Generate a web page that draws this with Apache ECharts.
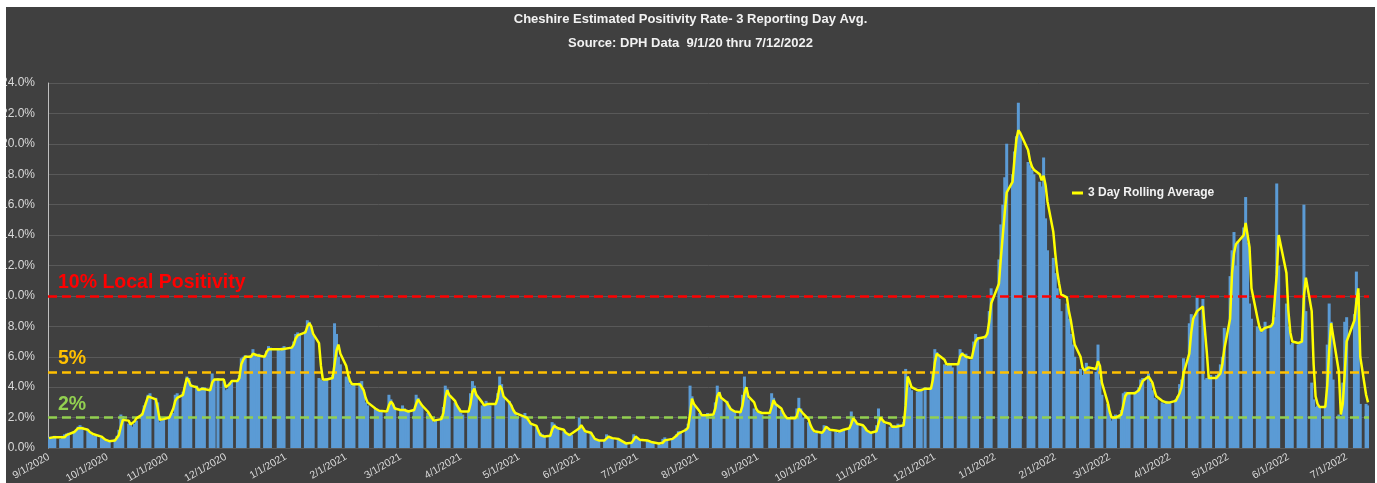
<!DOCTYPE html>
<html><head><meta charset="utf-8">
<script src="https://cdn.jsdelivr.net/npm/echarts/dist/echarts.min.js"></script>
<style>
html,body{margin:0;padding:0;background:#fff;width:1377px;height:483px;overflow:hidden}
#c{position:absolute;left:6px;top:7px;width:1369px;height:476px;background:#404040}
</style></head><body><div id="c"></div>
<script>
// Axis range (reporting days are Mon-Fri; weeks start on Monday 2020-08-31)
const firstDay = [2020, 8, 1];   // 9/1/2020
const dayCount = 680;            // through 7/12/2022
const yTicks = [0, 2, 4, 6, 8, 10, 12, 14, 16, 18, 20, 22, 24];
const thresholds = [10, 5, 2];
const thresholdLabels = ['10% Local Positivity', '5%', '2%'];

// Daily positivity (%), one row per week [Mon,Tue,Wed,Thu,Fri]
const barWeeks2020 = [
[null,0.7,0.75,0.7,0.8],[0.6,0.8,0.9,0.95,1.0],[1.1,1.2,1.4,1.5,1.4],[1.2,1.0,0.9,0.8,0.8],
[0.7,0.6,0.5,0.4,0.45],[0.6,0.8,1.2,2.2,2.1],[1.6,1.5,1.4,1.6,1.8],[2.3,2.8,3.0,3.5,3.6],
[3.3,3.0,1.7,1.8,1.9],[2.0,2.2,2.3,3.5,3.6],[3.7,4.0,4.7,4.6,4.2],[4.1,3.8,3.9,4.0,4.0],
[3.8,4.9,4.5,null,4.6],[4.4,3.8,3.9,4.3,4.4],[4.4,4.8,5.9,6.0,6.1],[6.1,6.5,6.2,6.0,6.2],
[6.0,6.4,6.7,6.6,null],[6.5,6.4,6.6,6.7,null]
];
const barWeeks2021a = [
[6.6,7.0,7.5,7.6,7.5],[7.7,8.4,8.3,7.9,7.4],[4.6,4.5,4.4,4.5,4.6],[4.8,8.2,7.5,6.0,5.5],
[4.7,4.6,4.2,4.1,4.2],[4.3,4.4,3.7,3.0,2.8],[null,2.6,2.5,2.4,2.5],[2.3,3.5,3.2,2.9,2.7],
[2.5,2.8,2.6,2.4,2.5],[2.5,3.5,3.3,2.9,2.7],[2.3,2.1,1.9,1.7,1.8],[2.0,2.7,4.1,3.9,3.4],
[3.0,2.8,2.6,2.3,2.2],[2.4,3.6,4.4,4.1,3.5],[2.8,2.9,3.1,2.9,2.8],[2.9,3.6,4.7,4.2,3.4],
[3.1,2.8,2.5,2.3,2.1],[2.1,2.3,2.0,1.7,1.6],[1.4,1.2,1.0,0.9,0.8],[0.8,1.7,1.6,1.4,1.3],
[1.1,0.95,0.9,0.85,0.85],[null,2.0,1.5,1.2,1.0],[1.0,0.8,0.6,0.5,0.5],[0.5,0.9,0.8,0.7,0.6],
[0.6,0.5,0.4,0.4,0.3],[0.35,0.9,0.7,0.6,0.5]
];
const barWeeks2021b = [
[null,0.5,0.45,0.4,0.35],[0.3,0.2,0.6,0.7,0.6],[0.6,0.7,0.9,1.1,1.1],[1.3,1.6,4.1,3.4,2.8],
[2.3,2.2,2.1,2.2,2.3],[2.2,3.0,4.1,3.7,3.2],[3.1,2.8,2.6,2.5,2.4],[2.3,3.5,4.7,4.0,3.2],
[2.6,2.4,2.3,2.3,2.2],[null,2.2,3.6,3.3,2.9],[2.5,2.2,2.0,1.9,1.9],[1.9,2.6,3.3,2.6,2.0],
[1.7,1.4,1.2,1.0,1.0],[1.0,1.5,1.4,1.2,1.1],[1.1,1.0,1.1,1.2,1.2],[1.3,2.4,2.0,1.8,1.6],
[1.5,1.3,1.1,1.0,1.0],[1.5,2.6,2.0,1.8,1.6],[1.4,1.3,1.5,1.4,1.6],[1.7,5.2,4.5,4.0,3.8],
[3.7,3.8,3.9,null,4.0],[4.0,5.0,6.5,6.3,6.0],[5.5,5.4,5.6,5.5,5.3],[5.6,6.5,6.3,6.0,6.2],
[5.8,7.0,7.5,7.3,null],[7.4,7.6,9.0,10.5,null]
];
const barWeeks2022 = [
[12.4,14.7,16.0,17.8,20.0],[18.0,19.5,20.5,22.7,20.5],[null,18.8,18.6,18.3,18.0],[17.5,17.2,19.1,15.1,13.0],
[12.5,11.5,10.5,9.8,9.0],[9.5,8.5,7.5,6.8,6.0],[5.2,4.8,5.2,5.6,5.3],[null,5.0,6.8,4.5,3.5],
[2.9,2.2,1.8,2.0,2.2],[2.5,3.6,3.7,3.5,3.6],[3.7,3.6,4.0,4.5,4.6],[4.9,4.3,3.8,3.3,3.2],
[3.0,2.9,3.1,3.0,3.0],[3.2,3.4,4.2,4.5,5.9],[8.2,8.8,8.5,8.6,9.9],[9.8,4.5,4.6,4.6,4.8],
[4.8,5.0,5.5,6.0,7.9],[11.3,13.0,14.2,12.0,13.6],[14.5,16.5,13.5,9.5,8.5],[8.0,7.8,7.6,7.7,8.3],
[8.0,8.2,8.6,17.4,12.0],[null,9.5,8.0,6.8,6.9],[6.8,7.0,7.2,16.0,9.0],[4.3,3.2,2.7,2.8,2.7],
[2.8,6.8,9.5,8.3,4.5],[2.2,2.1,4.3,8.3,8.6],[null,8.8,11.6,10.2,2.9],[2.9,2.8]
];

// 3 Day Rolling Average (%), same week layout
const lineWeeks2020 = [
[null,0.65,0.7,0.7,0.72],[0.7,0.6,0.7,0.85,0.95],[1.05,1.15,1.3,1.35,1.3],[1.2,1.05,0.95,0.9,0.85],
[0.75,0.65,0.55,0.45,0.45],[0.5,0.6,0.85,1.4,1.85],[1.8,1.55,1.6,1.75,1.95],[2.2,2.6,3.0,3.4,3.35],
[3.2,2.6,1.85,1.8,1.9],[2.0,2.1,2.6,3.1,3.3],[3.5,4.1,4.6,4.4,4.1],[4.0,3.8,3.9,3.9,3.8],
[3.8,4.3,4.5,null,4.5],[4.5,4.0,3.9,4.2,4.4],[4.4,4.6,5.5,5.8,6.0],[6.0,6.2,6.2,6.1,6.1],
[6.0,6.3,6.5,6.55,null],[6.5,6.45,6.5,6.6,null]
];
const lineWeeks2021a = [
[6.6,6.8,7.2,7.4,7.5],[7.6,8.0,8.2,8.0,7.5],[6.9,5.4,4.5,4.45,4.5],[4.6,5.5,6.4,6.8,6.2],
[5.4,4.8,4.4,4.2,4.15],[4.2,4.1,3.8,3.3,3.0],[null,2.6,2.5,2.45,2.5],[2.4,2.8,3.05,2.9,2.6],
[2.5,2.4,2.5,2.5,2.4],[2.5,2.9,3.2,3.0,2.8],[2.4,2.2,2.0,1.8,1.75],[1.9,2.3,3.3,3.8,3.5],
[3.1,2.8,2.6,2.4,2.3],[2.4,2.9,3.7,3.9,3.5],[3.0,2.8,2.8,2.9,2.85],[2.9,3.3,4.1,3.9,3.4],
[3.0,2.8,2.5,2.3,2.2],[2.1,2.1,2.0,1.8,1.6],[1.45,1.1,0.85,0.75,0.75],[0.8,1.2,1.45,1.4,1.3],
[1.2,1.0,0.9,0.85,0.85],[null,1.3,1.5,1.4,1.1],[1.0,0.8,0.6,0.5,0.5],[0.5,0.6,0.75,0.7,0.65],
[0.6,0.5,0.45,0.35,0.3],[0.35,0.55,0.75,0.65,0.55]
];
const lineWeeks2021b = [
[null,0.5,0.45,0.4,0.35],[0.3,0.26,0.35,0.5,0.6],[0.6,0.7,0.8,0.95,1.05],[1.2,1.35,2.2,3.25,2.9],
[2.4,2.15,2.15,2.15,2.2],[2.2,2.6,3.4,3.65,3.3],[3.0,2.75,2.55,2.45,2.4],[2.35,2.8,3.6,4.0,3.4],
[3.0,2.6,2.4,2.3,2.3],[null,2.3,2.7,3.15,2.9],[2.6,2.3,2.1,1.95,1.95],[1.95,2.1,2.6,2.7,2.3],
[1.9,1.5,1.25,1.1,1.0],[1.0,1.15,1.4,1.3,1.2],[1.15,1.1,1.1,1.15,1.2],[1.3,1.6,1.95,1.8,1.6],
[1.5,1.35,1.15,1.05,1.0],[1.1,1.6,2.0,1.9,1.7],[1.6,1.4,1.4,1.4,1.5],[1.5,2.8,4.7,4.4,4.0],
[3.8,3.7,3.8,null,3.9],[3.9,4.5,5.6,6.2,6.1],[5.8,5.5,5.5,5.5,5.4],[5.5,6.0,6.2,6.1,6.0],
[5.9,6.5,7.0,7.2,null],[7.3,7.5,8.3,9.5,null]
];
const lineWeeks2022 = [
[10.8,12.5,14.0,15.5,16.8],[17.5,19.0,20.3,20.9,20.7],[null,19.6,18.9,18.5,18.3],[18.0,17.6,17.9,17.3,16.2],
[14.2,12.8,11.6,10.8,10.1],[9.9,9.0,8.4,7.6,6.8],[6.0,5.3,5.1,5.2,5.3],[null,5.2,5.7,5.4,4.3],
[3.0,2.4,2.0,1.9,2.0],[2.2,2.8,3.4,3.6,3.6],[3.6,3.7,3.8,4.1,4.4],[4.7,4.6,4.3,3.8,3.4],
[3.1,3.0,3.0,3.0,3.0],[3.1,3.2,3.6,4.0,4.9],[6.2,7.6,8.5,8.6,9.0],[9.3,7.8,6.3,4.6,4.6],
[4.6,4.7,4.9,5.5,6.5],[8.5,11.5,12.8,13.4,13.5],[14.0,14.8,14.9,13.2,10.5],[8.6,8.0,7.7,7.7,7.9],
[8.0,8.2,8.3,11.4,14.0],[null,11.5,9.0,7.6,7.0],[6.9,6.8,7.0,10.0,11.2],[9.0,5.5,3.4,2.9,2.7],
[2.7,4.1,6.4,8.2,7.4],[5.0,2.2,2.9,4.9,7.0],[null,8.4,9.6,10.5,6.0],[3.5,3.0]
];

// ---- build daily category axis ----
const categories = [];
for (let i = 0; i < dayCount; i++) {
  const d = new Date(Date.UTC(firstDay[0], firstDay[1], firstDay[2]) + i * 86400000);
  categories.push((d.getUTCMonth() + 1) + '/' + d.getUTCDate() + '/' + d.getUTCFullYear());
}
function spread(weeks) {
  const out = new Array(dayCount).fill(null);
  weeks.forEach((wk, k) => wk.forEach((v, j) => {
    const idx = 7 * k - 1 + j;   // week 0 starts Monday 8/31/2020
    if (idx >= 0 && idx < dayCount) out[idx] = v;
  }));
  return out;
}
const barData = spread([].concat(barWeeks2020, barWeeks2021a, barWeeks2021b, barWeeks2022));
const lineData = spread([].concat(lineWeeks2020, lineWeeks2021a, lineWeeks2021b, lineWeeks2022));

const FONT = 'Liberation Sans';
const thrColors = ['#ff0000', '#ffc000', '#92d050'];

const chart = echarts.init(document.getElementById('c'), null, {renderer: 'canvas'});
chart.setOption({
  animation: false,
  backgroundColor: '#404040',
  title: {
    text: 'Cheshire Estimated Positivity Rate- 3 Reporting Day Avg.\nSource: DPH Data  9/1/20 thru 7/12/2022',
    left: 'center', top: -5,
    textStyle: {color: '#f2f2f2', fontSize: 13, fontWeight: 'bold', fontFamily: FONT, lineHeight: 24}
  },
  legend: {
    data: ['3 Day Rolling Average'],
    left: 1061, top: 175,
    icon: 'rect', itemWidth: 11, itemHeight: 3, itemGap: 4,
    textStyle: {color: '#f2f2f2', fontSize: 12, fontWeight: 'bold', fontFamily: FONT}
  },
  grid: {left: 42, right: 6, top: 76, bottom: 35, containLabel: false, outerBoundsMode: 'none'},
  xAxis: {
    type: 'category', data: categories, boundaryGap: true,
    axisLine: {show: false}, axisTick: {show: false}, splitLine: {show: false},
    axisLabel: {
      interval: (idx, val) => val.split('/')[1] === '1',
      rotate: 30, color: '#d9d9d9', fontSize: 10.5, fontFamily: FONT, margin: 8
    }
  },
  yAxis: {
    type: 'value', min: yTicks[0], max: yTicks[yTicks.length - 1], interval: 2,
    axisLine: {show: true, lineStyle: {color: '#bfbfbf', width: 1}},
    axisTick: {show: false},
    splitLine: {lineStyle: {color: '#595959', width: 1}},
    axisLabel: {formatter: v => v.toFixed(1) + '%', color: '#d9d9d9', fontSize: 12, fontFamily: FONT, margin: 13}
  },
  series: [
    {
      name: 'Positivity', type: 'bar', data: barData,
      barWidth: 3, barGap: '-100%',
      itemStyle: {color: '#5b9bd5'},
      z: 2,
      markLine: {
        silent: true, symbol: 'none', animation: false,
        label: {show: true, position: 'insideStartTop', fontSize: 19.5, fontWeight: 'bold', fontFamily: FONT, distance: [10, 3]},
        data: thresholds.map((t, i) => ({
          yAxis: t,
          lineStyle: {color: thrColors[i], type: [9, 5], width: 2.7},
          label: {formatter: thresholdLabels[i], color: thrColors[i]}
        }))
      }
    },
    {
      name: '3 Day Rolling Average', type: 'line', data: lineData,
      connectNulls: true, symbol: 'none', z: 5,
      itemStyle: {color: '#ffff00'},
      lineStyle: {color: '#ffff00', width: 2.5}
    }
  ]
});
</script></body></html>
